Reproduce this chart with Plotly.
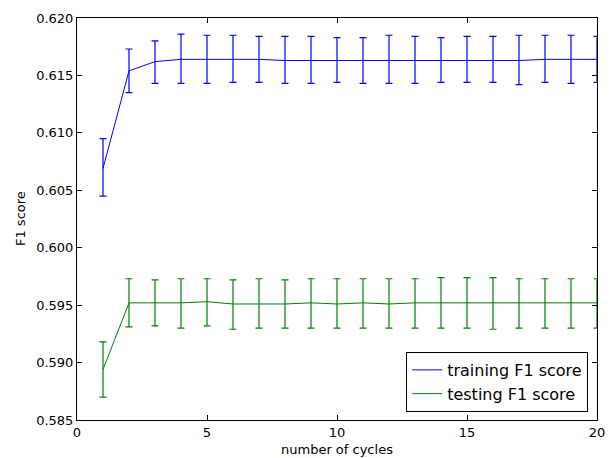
import plotly.graph_objects as go

cycles = list(range(1, 21))

train_mean = [0.6069, 0.6154, 0.6162, 0.6164, 0.6164, 0.6164, 0.6164, 0.6163, 0.6163, 0.6163,
              0.6163, 0.6163, 0.6163, 0.6163, 0.6163, 0.6163, 0.6163, 0.6164, 0.6164, 0.6164]
train_upper = [0.6095, 0.6173, 0.6180, 0.6186, 0.6185, 0.6185, 0.6184, 0.6184, 0.6184, 0.6183,
               0.6183, 0.6185, 0.6184, 0.6183, 0.6184, 0.6184, 0.6185, 0.6185, 0.6185, 0.6184]
train_lower = [0.6045, 0.6135, 0.6143, 0.6143, 0.6143, 0.6144, 0.6144, 0.6143, 0.6143, 0.6144,
               0.6143, 0.6143, 0.6143, 0.6144, 0.6144, 0.6144, 0.6142, 0.6144, 0.6143, 0.6144]

test_mean = [0.5894, 0.5952, 0.5952, 0.5952, 0.5953, 0.5951, 0.5951, 0.5951, 0.5952, 0.5951,
             0.5952, 0.5951, 0.5952, 0.5952, 0.5952, 0.5952, 0.5952, 0.5952, 0.5952, 0.5952]
test_upper = [0.5918, 0.5973, 0.5972, 0.5973, 0.5973, 0.5972, 0.5973, 0.5972, 0.5973, 0.5973,
              0.5973, 0.5973, 0.5973, 0.5974, 0.5974, 0.5974, 0.5973, 0.5973, 0.5973, 0.5973]
test_lower = [0.5870, 0.5931, 0.5932, 0.5930, 0.5932, 0.5929, 0.5930, 0.5930, 0.5930, 0.5930,
              0.5930, 0.5930, 0.5930, 0.5930, 0.5930, 0.5929, 0.5930, 0.5930, 0.5930, 0.5930]

x_ticks = [0, 5, 10, 15, 20]
y_ticks = [0.585, 0.590, 0.595, 0.600, 0.605, 0.610, 0.615, 0.620]
x_title = "number of cycles"
y_title = "F1 score"


def err(mean, up, lo):
    return [u - m for u, m in zip(up, mean)], [m - l for m, l in zip(mean, lo)]


fig = go.Figure()
for name, mean, up, lo, color in [
    ("training F1 score", train_mean, train_upper, train_lower, "#0000ff"),
    ("testing F1 score", test_mean, test_upper, test_lower, "#008000"),
]:
    plus, minus = err(mean, up, lo)
    fig.add_trace(go.Scatter(
        x=cycles, y=mean, mode="lines", name=name,
        line=dict(color=color, width=1),
        error_y=dict(type="data", symmetric=False, array=plus, arrayminus=minus,
                     color=color, thickness=1.2, width=3.5),
    ))

axis_common = dict(
    showgrid=False, zeroline=False, showline=True, linecolor="black", linewidth=1,
    mirror="ticks", ticks="inside", ticklen=5, tickcolor="black", tickwidth=1,
    automargin=False,
    tickfont=dict(family="DejaVu Sans", size=13, color="black"),
)

fig.update_xaxes(range=[0, 20], tickvals=x_ticks, **axis_common)
fig.update_yaxes(range=[0.585, 0.620], tickvals=y_ticks, tickformat=".3f", **axis_common)

title_font = dict(family="DejaVu Sans", size=13, color="black")
fig.add_annotation(text=x_title, xref="paper", yref="paper", x=0.5, y=-0.0746,
                   xanchor="center", yanchor="middle", showarrow=False, font=title_font)
fig.add_annotation(text=y_title, xref="paper", yref="paper", x=-0.1096, y=0.5,
                   xanchor="center", yanchor="middle", showarrow=False, textangle=-90,
                   font=title_font)

# the page body adds an 8px margin, so the figure is 8px smaller on each axis
fig.update_layout(
    width=605, height=450,
    margin=dict(l=69, r=16, t=10, b=38),
    plot_bgcolor="white", paper_bgcolor="white",
    font=dict(family="DejaVu Sans", color="black"),
    legend=dict(
        x=0.983, y=0.02, xanchor="right", yanchor="bottom",
        bordercolor="black", borderwidth=1, bgcolor="white",
        font=dict(family="DejaVu Sans", size=16, color="black"),
        itemwidth=30,
    ),
)

fig.write_html("out.html")
